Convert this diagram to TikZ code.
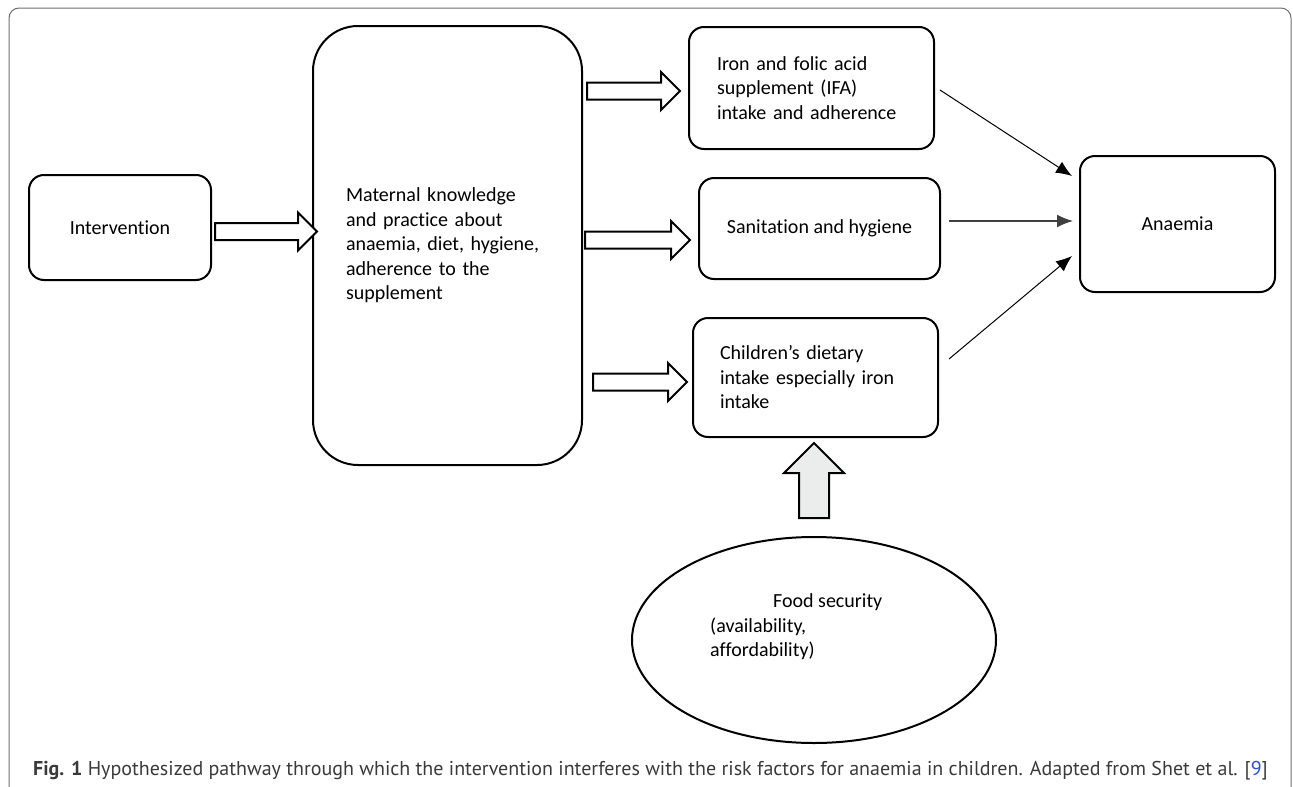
\documentclass[tikz,border=0pt]{standalone}
\usepackage{fontspec}
\setmainfont{Carlito}[Ligatures=NoCommon]
\newfontfamily\capfont{PT Sans}
\usetikzlibrary{calc,arrows.meta,shapes.geometric}

\definecolor{framegray}{HTML}{6E6E6E}
\definecolor{capgray}{HTML}{3A3A3A}
\definecolor{citeblue}{HTML}{2B50E0}
\definecolor{arrowgray}{HTML}{EBECEC}

\tikzset{
    box/.style={draw, line width=2pt, rounded corners=15pt, inner sep=0pt,
        font=\fontsize{20}{24.5}\selectfont},
    blockline/.style={draw, line width=2pt, line join=miter},
    thinarrow/.style={line width=1pt, -{Latex[length=16pt,width=13pt]}},
}

% hollow block arrow from a tail point to the x of a tip point
\newcommand{\fatarrow}[3][white]{%
    \draw[blockline, fill=#1] let \p1=(#2), \p2=(#3) in
        (\x1,\y1+8.5pt) -- (\x2-19pt,\y1+8.5pt) -- (\x2-19pt,\y1+19pt) -- (\x2,\y1)
        -- (\x2-19pt,\y1-19pt) -- (\x2-19pt,\y1-8.5pt) -- (\x1,\y1-8.5pt) -- cycle;}

\begin{document}
\begin{tikzpicture}[x=1pt, y=-1pt]
    \useasboundingbox (0,0) rectangle (1293,787);
    \clip (0,0) rectangle (1293,787);
    \draw[framegray, line width=1pt, rounded corners=10pt] (9,8) rectangle (1291,800);

    \node[box, minimum width=182, minimum height=105] (intv) at (120,227.5) {Intervention};
    \node[box, rounded corners=45pt, minimum width=269, minimum height=439,
        text width=203, align=left] (mat) at (447.5,245.5)
        {Maternal knowledge\\and practice about\\anaemia, diet, hygiene,\\adherence to the\\supplement};
    \node[box, minimum width=245, minimum height=122, text width=189, align=left] (ifa) at (811.5,88)
        {Iron and folic acid\\supplement (IFA)\\intake and adherence};
    \node[box, minimum width=241, minimum height=101] (san) at (819.5,228.5) {Sanitation and hygiene};
    \node[box, minimum width=245, minimum height=119, text width=191, align=left] (child) at (815.5,377.5)
        {Children’s dietary\\intake especially iron\\intake};
    \node[box, minimum width=195, minimum height=136] (anaemia) at (1177.5,224) {Anaemia};
    \node[ellipse, draw, line width=2pt, minimum width=364, minimum height=206, inner sep=0] (food) at (814,640) {};
    \node[anchor=west, align=left, inner sep=0, font=\fontsize{20}{24.5}\selectfont] (foodtxt)
        at ([xshift=-104, yshift=13]food.center)
        {\hspace*{63pt}Food security\\(availability,\\affordability)};

    % block arrows
    \fatarrow{[xshift=3, yshift=-4]intv.east}{[xshift=5]mat.west}
    \fatarrow{[xshift=4, yshift=-3]mat.east |- ifa.west}{[xshift=-8]ifa.west}
    \fatarrow{[xshift=2, yshift=-11.5]mat.east |- san.west}{[xshift=-8]san.west}
    \fatarrow{[xshift=10, yshift=-4.5]mat.east |- child.west}{[xshift=-5]child.west}
    \draw[blockline, fill=arrowgray] let \p1=([yshift=18]food.north), \p2=([yshift=-5]child.south) in
        (\x1-15pt,\y1) -- (\x1-15pt,\y2-30pt) -- (\x1-30pt,\y2-30pt) -- (\x1,\y2)
        -- (\x1+30pt,\y2-30pt) -- (\x1+15pt,\y2-30pt) -- (\x1+15pt,\y1) -- cycle;

    % thin arrows to anaemia
    \draw[thinarrow] ([xshift=5, yshift=-2]ifa.east) -- ([xshift=-7, yshift=48]anaemia.west);
    \draw[thinarrow, line width=1.5pt, black!75] ([xshift=8, yshift=7.5]san.east) -- ([xshift=-6, yshift=3]anaemia.west);
    \draw[thinarrow] ([xshift=10, yshift=18.5]child.east) -- ([xshift=-7, yshift=-32]anaemia.west);

    \node[anchor=west, inner sep=0, text=capgray, font=\capfont\fontsize{20}{22}\selectfont] (cap) at (33,771)
        {\textbf{Fig. 1} Hypothesized pathway through which the intervention interferes with the risk factors for anaemia in children. Adapted from Shet et al. [\textcolor{citeblue}{9}]};
\end{tikzpicture}
\end{document}
